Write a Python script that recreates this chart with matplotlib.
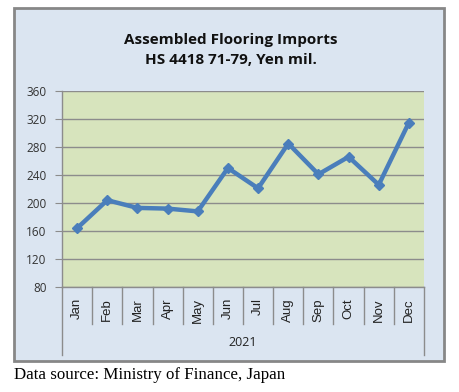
import matplotlib.pyplot as plt
from matplotlib.patches import Rectangle

months = ["Jan", "Feb", "Mar", "Apr", "May", "Jun", "Jul", "Aug", "Sep", "Oct", "Nov", "Dec"]
imports = [164, 204, 193, 192, 188, 250, 221, 285, 241, 266, 226, 315]
yticks = [80, 120, 160, 200, 240, 280, 320, 360]

W, H = 460, 392
fig = plt.figure(figsize=(W / 100, H / 100), dpi=100)
fig.patch.set_facecolor("white")

# chart frame
fig.patches.append(Rectangle((14 / W, 1 - 361 / H), 430 / W, 353 / H, transform=fig.transFigure,
                             facecolor="#dbe5f1", edgecolor="#878787", linewidth=2, zorder=-1))

ax = fig.add_axes([62 / W, 1 - 287 / H, 362 / W, 196 / H])
ax.set_zorder(1)
ax.set_facecolor("#d7e4bd")
x = list(range(len(months)))
ax.plot(x, imports, color="#4a7ebb", linewidth=3.2, marker="D", markersize=5.5, zorder=3)

ax.set_xlim(-0.5, len(months) - 0.5)
ax.set_ylim(80, 360)
ax.set_yticks(yticks)
ax.set_yticklabels([str(v) for v in yticks], fontsize=8.5, family="Open Sans", color="#333333")
ax.yaxis.grid(True, color="#8c8c8c", linewidth=1)
ax.set_axisbelow(True)
ax.tick_params(axis="y", length=5, color="#8c8c8c", pad=6)

ax.set_xticks(x)
ax.set_xticklabels(months, rotation=90, fontsize=9.5, family="Liberation Sans", color="#222222")
ax.tick_params(axis="x", length=0, pad=8)

for s in ["top", "right"]:
    ax.spines[s].set_visible(False)
for s in ["left", "bottom"]:
    ax.spines[s].set_color("#8c8c8c")
    ax.spines[s].set_linewidth(1)

# category separators and group lines
tr = ax.get_xaxis_transform()
for i in range(len(months) + 1):
    xb = i - 0.5
    low = -0.347 if i in (0, len(months)) else -0.189
    ax.plot([xb, xb], [0, low], transform=tr, color="#8c8c8c", linewidth=1, clip_on=False)

ax.text((len(months) - 1) / 2, -0.285, "2021", transform=tr, ha="center", va="center",
        fontsize=9, family="Open Sans", color="#222222")

fig.text(0.502, 1 - 50 / H, "Assembled Flooring Imports\nHS 4418 71-79, Yen mil.", ha="center", va="center",
         fontsize=11, fontweight="bold", family="Open Sans", linespacing=1.5, color="#111111")

fig.text(14 / W, 1 - 375 / H, "Data source: Ministry of Finance, Japan", ha="left", va="center",
         fontsize=12.2, family="Liberation Serif", color="black")

plt.savefig("out.png", dpi=100)
